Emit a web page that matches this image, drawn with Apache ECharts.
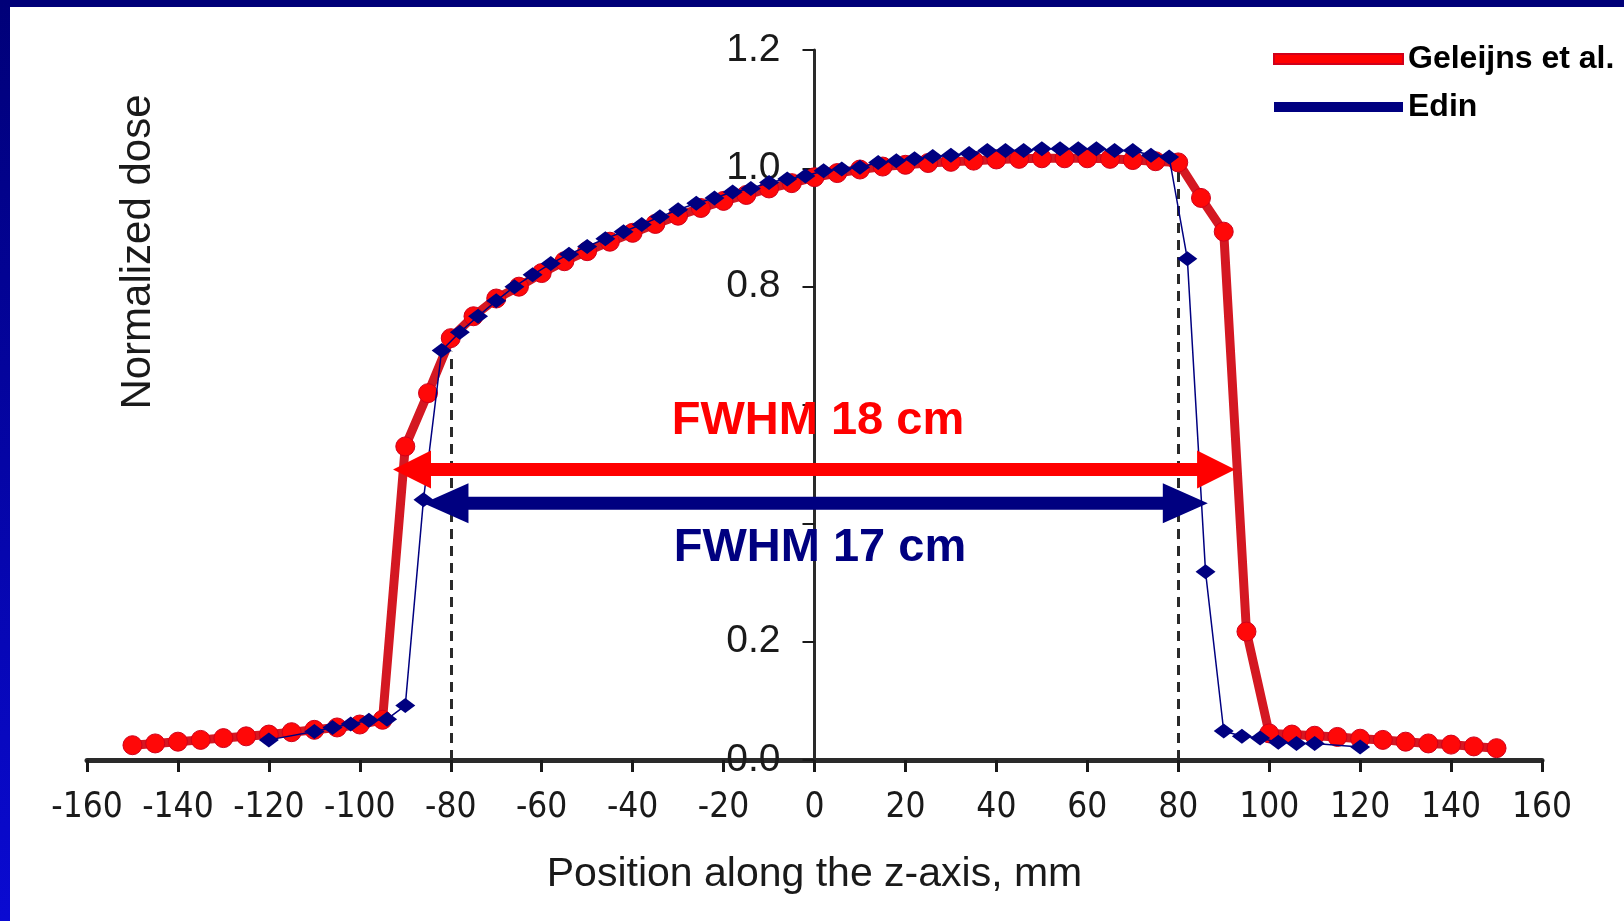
<!DOCTYPE html>
<html>
<head>
<meta charset="utf-8">
<script src="https://cdn.jsdelivr.net/npm/echarts@6/dist/echarts.min.js"></script>
<style>
html,body{margin:0;padding:0;background:#fff;}
#chart{position:absolute;left:0;top:0;width:1624px;height:921px;background:#fff;}
#topbar{position:absolute;left:0;top:0;width:1624px;height:7px;background:#000078;z-index:5;}
#leftbar{position:absolute;left:0;top:0;width:10px;height:921px;background:linear-gradient(#000078,#0a0ad2);z-index:5;}
</style>
</head>
<body>
<div id="chart"></div>
<div id="topbar"></div>
<div id="leftbar"></div>
<script>
// ---- data ----
const geleijnsX = [-150,-145,-140,-135,-130,-125,-120,-115,-110,-105,-100,-95,-90,-85,-80,-75,-70,-65,-60,-55,-50,-45,-40,-35,-30,-25,-20,-15,-10,-5,0,5,10,15,20,25,30,35,40,45,50,55,60,65,70,75,80,85,90,95,100,105,110,115,120,125,130,135,140,145,150];
const geleijnsY = [0.025,0.028,0.031,0.034,0.037,0.040,0.043,0.047,0.051,0.055,0.060,0.068,0.530,0.620,0.713,0.750,0.780,0.800,0.823,0.843,0.860,0.876,0.891,0.906,0.920,0.933,0.945,0.955,0.966,0.975,0.985,0.992,0.998,1.003,1.006,1.009,1.011,1.013,1.015,1.016,1.017,1.017,1.017,1.016,1.014,1.012,1.010,0.950,0.893,0.217,0.045,0.043,0.041,0.039,0.036,0.034,0.031,0.028,0.026,0.023,0.020];

const edinX = [-120,-110,-106,-102,-98,-94,-90,-86,-82,-78,-74,-70,-66,-62,-58,-54,-50,-46,-42,-38,-34,-30,-26,-22,-18,-14,-10,-6,-2,2,6,10,14,18,22,26,30,34,38,42,46,50,54,58,62,66,70,74,78,82,86,90,94,98,102,106,110,120];
const edinY = [0.034,0.048,0.055,0.061,0.067,0.069,0.092,0.440,0.692,0.723,0.750,0.776,0.800,0.820,0.839,0.855,0.868,0.881,0.893,0.905,0.918,0.930,0.941,0.950,0.960,0.966,0.976,0.982,0.987,0.996,0.999,1.002,1.010,1.013,1.016,1.020,1.022,1.025,1.030,1.030,1.030,1.033,1.033,1.033,1.033,1.030,1.030,1.022,1.019,0.847,0.318,0.049,0.040,0.037,0.030,0.028,0.028,0.022];

const seriesNames = ['Geleijns et al.', 'Edin'];
// FWHM double arrows: [left tip x, right tip x, y level]
const fwhmArrows = [[-92.7, 92.5, 0.491], [-86, 86.5, 0.434]];
const fwhmLabels = ['FWHM 18 cm', 'FWHM 17 cm'];
// dashed guide lines: [x, top y]
const guideLines = [[-80, 0.69], [80, 1.0]];
const xAxisTitle = 'Position along the z-axis, mm';
const yAxisTitle = 'Normalized dose';
const hiddenYLabels = [0.4, 0.6];

// ---- styles ----
const FONT = '"Liberation Sans", Arial, Helvetica, sans-serif';
const NARROW = '"Liberation Sans Narrow", "DejaVu Sans Condensed", "Liberation Sans", Arial, sans-serif';
const RED = '#ff0000';
const NAVY = '#000080';
const arrowStyles = [
  {color: RED, head: 38, half: 19, shaft: 6.5},
  {color: NAVY, head: 45, half: 20, shaft: 6.5}
];
const GRID = {left: 87, right: 82, top: 50, bottom: 161};

const chart = echarts.init(document.getElementById('chart'), null, {renderer: 'canvas'});

const redData = geleijnsX.map((x, i) => [x, geleijnsY[i]]);
const blueData = edinX.map((x, i) => [x, edinY[i]]);

// y axis sits at x = 0: offset it inward from the grid's left edge
const plotWidth = 1624 - GRID.left - GRID.right;
const yAxisOffset = -plotWidth * (0 - (-160)) / (160 - (-160));

const option = {
  animation: false,
  backgroundColor: '#ffffff',
  grid: Object.assign({containLabel: false}, GRID),
  legend: {
    left: 1268, top: 38, orient: 'vertical',
    itemWidth: 129, itemHeight: 10, itemGap: 16, icon: 'rect',
    textStyle: {fontSize: 32, fontWeight: 'bold', color: '#000', fontFamily: FONT, lineHeight: 32},
    data: [{name: seriesNames[0], itemStyle: {color: RED}}, {name: seriesNames[1], itemStyle: {color: NAVY}}]
  },
  xAxis: {
    type: 'value', min: -160, max: 160, interval: 20,
    name: xAxisTitle, nameLocation: 'middle', nameGap: 94,
    nameTextStyle: {fontSize: 41, color: '#1a1a1a', fontFamily: FONT},
    axisLine: {show: true, onZero: false, lineStyle: {color: '#2a2a2a', width: 5}},
    axisTick: {show: true, inside: false, length: 12, lineStyle: {color: '#1a1a1a', width: 3}},
    axisLabel: {margin: 30, fontSize: 35, color: '#1a1a1a', fontFamily: NARROW},
    splitLine: {show: false}
  },
  yAxis: {
    type: 'value', min: 0, max: 1.2, interval: 0.2,
    position: 'left', offset: yAxisOffset,
    axisLine: {show: true, onZero: false, lineStyle: {color: '#2a2a2a', width: 3}},
    axisTick: {show: true, inside: false, length: 12, lineStyle: {color: '#1a1a1a', width: 2}},
    axisLabel: {
      margin: 34, fontSize: 39, color: '#1a1a1a', fontFamily: FONT,
      formatter: function (v) {
        for (const h of hiddenYLabels) { if (Math.abs(v - h) < 1e-6) return ''; }
        return v.toFixed(1);
      }
    },
    splitLine: {show: false}
  },
  graphic: [
    {type: 'text', x: 138, y: 252, rotation: Math.PI / 2, z: 100,
     style: {text: yAxisTitle, fill: '#1a1a1a', font: '42px ' + FONT, align: 'center', verticalAlign: 'middle'}},
    {type: 'text', x: 818, y: 421, z: 100,
     style: {text: fwhmLabels[0], fill: RED, font: 'bold 47px ' + FONT, align: 'center', verticalAlign: 'middle'}},
    {type: 'text', x: 820, y: 548, z: 100,
     style: {text: fwhmLabels[1], fill: NAVY, font: 'bold 47px ' + FONT, align: 'center', verticalAlign: 'middle'}}
  ],
  series: [
    {
      name: seriesNames[0], type: 'line', data: redData, z: 2,
      symbol: 'circle', symbolSize: 19,
      lineStyle: {color: '#d41822', width: 9},
      itemStyle: {color: '#ff0808', borderColor: '#d0001a', borderWidth: 1},
      markLine: {
        silent: true, symbol: 'none', z: 1,
        label: {show: false},
        lineStyle: {type: [10, 7], color: '#2a2a2a', width: 3},
        data: guideLines.map(g => [{coord: [g[0], 0]}, {coord: [g[0], g[1]]}])
      }
    },
    {
      name: seriesNames[1], type: 'line', data: blueData, z: 3,
      symbol: 'diamond', symbolSize: [20, 15],
      lineStyle: {color: NAVY, width: 1.5},
      itemStyle: {color: NAVY}
    },
    {
      name: 'fwhm', type: 'custom', z: 10, silent: true,
      encode: {x: [0, 1], y: 2},
      data: fwhmArrows,
      renderItem: function (params, api) {
        const s = arrowStyles[params.dataIndex];
        const a = api.coord([api.value(0), api.value(2)]);
        const b = api.coord([api.value(1), api.value(2)]);
        const y = a[1];
        const x1 = a[0], x2 = b[0];
        return {
          type: 'polygon',
          shape: {points: [
            [x1, y], [x1 + s.head, y - s.half], [x1 + s.head, y - s.shaft],
            [x2 - s.head, y - s.shaft], [x2 - s.head, y - s.half], [x2, y],
            [x2 - s.head, y + s.half], [x2 - s.head, y + s.shaft],
            [x1 + s.head, y + s.shaft], [x1 + s.head, y + s.half]
          ]},
          style: {fill: s.color}
        };
      }
    }
  ]
};
chart.setOption(option);
</script>
</body>
</html>
